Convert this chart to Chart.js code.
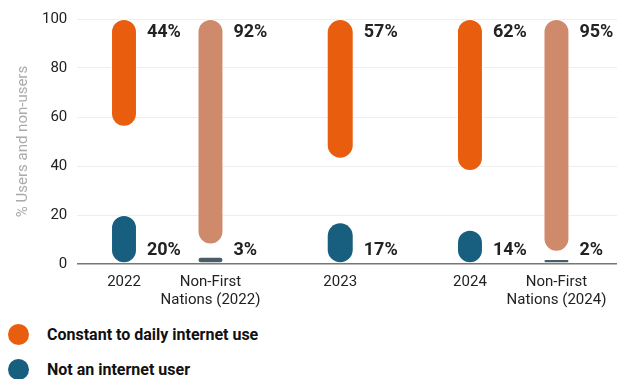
<!doctype html>
<html lang="en">
  <head>
    <meta charset="utf-8">
    <meta name="viewport" content="width=device-width, initial-scale=1">
    <script src="https://cdn.jsdelivr.net/npm/chart.js"></script>
    <title>Internet use</title>
    <style>
      body { margin: 0; background: #fff; font-family: Roboto, sans-serif; }
      #wrap { position: relative; width: 624px; height: 314px; }
      .legend { padding-top: 3px; }
      .legend .row { display: flex; align-items: center; height: 35px; }
      .legend .dot { width: 21px; height: 21px; border-radius: 50%; margin-left: 8px; margin-right: 18px; }
      .legend .txt { font-weight: bold; font-size: 16px; color: #111; }
    </style>
  </head>
  <body>
    <div id="wrap"><canvas id="chart"></canvas></div>
    <div class="legend">
      <div class="row"><span class="dot" style="background:#e85d0e"></span><span class="txt">Constant to daily internet use</span></div>
      <div class="row"><span class="dot" style="background:#175e7f"></span><span class="txt">Not an internet user</span></div>
    </div>

    <script>
    // data
    const years = ['2022', '2023', '2024'];
    const nfnLabels = [['Non-First', 'Nations (2022)'], null, ['Non-First', 'Nations (2024)']];
    const dailyUse = [44, 57, 62];        // constant to daily, First Nations
    const nonUsers = [20, 17, 14];        // not an internet user
    const nfnDailyUse = [92, null, 95];   // Non-First Nations
    const nfnNonUsers = [3, null, 2];
    const yTicks = [0, 20, 40, 60, 80, 100];

    // users hang down from 100, non-users stand up from 0
    const fromTop = arr => arr.map((v, i) => ({ x: i, y: v == null ? null : [100 - v, 100] }));
    const fromBottom = arr => arr.map((v, i) => ({ x: i, y: v == null ? null : [0, v] }));

    const valueSets = [dailyUse, nonUsers, nfnDailyUse, nfnNonUsers];
    const topAnchored = [true, false, true, false];

    const barStyle = {
      borderRadius: 20,
      borderSkipped: false,
      borderWidth: 1,
      borderColor: '#fff',
      categoryPercentage: 1,
      barPercentage: 0.3,
      maxBarThickness: 27
    };

    const labelsPlugin = {
      id: 'labelsPlugin',
      afterDatasetsDraw(chart) {
        const ctx = chart.ctx;
        const area = chart.chartArea;
        ctx.save();
        ctx.fillStyle = '#222';
        ctx.textBaseline = 'middle';

        // percent labels beside each bar
        ctx.font = 'bold 18px Roboto';
        ctx.textAlign = 'left';
        valueSets.forEach((vals, di) => {
          const meta = chart.getDatasetMeta(di);
          meta.data.forEach((el, i) => {
            if (vals[i] == null) return;
            const p = el.getProps(['x', 'y', 'base', 'width'], true);
            const y = topAnchored[di] ? p.y + 13 : p.base - 13;
            ctx.fillText(vals[i] + '%', p.x + p.width / 2 + 10, y);
          });
        });

        // category names under the bars
        ctx.font = '15px Roboto';
        ctx.textAlign = 'center';
        chart.getDatasetMeta(0).data.forEach((el, i) => {
          ctx.fillText(years[i], el.x, area.bottom + 18);
        });
        chart.getDatasetMeta(2).data.forEach((el, i) => {
          if (!nfnLabels[i]) return;
          nfnLabels[i].forEach((line, k) => ctx.fillText(line, el.x, area.bottom + 18 + k * 18));
        });
        ctx.restore();
      }
    };

    new Chart(document.getElementById('chart'), {
      type: 'bar',
      data: {
        datasets: [
          { label: 'Constant to daily internet use', data: fromTop(dailyUse), backgroundColor: '#e85d0e', stack: 'fn', ...barStyle },
          { label: 'Not an internet user', data: fromBottom(nonUsers), backgroundColor: '#175e7f', stack: 'fn', ...barStyle },
          { label: 'Non-First Nations daily use', data: fromTop(nfnDailyUse), backgroundColor: '#ce8a6a', stack: 'nfn', ...barStyle },
          { label: 'Non-First Nations non-users', data: fromBottom(nfnNonUsers), backgroundColor: '#485d68', stack: 'nfn', ...barStyle }
        ]
      },
      options: {
        responsive: true,
        maintainAspectRatio: false,
        animation: false,
        skipNull: true,
        layout: { padding: { top: 8, right: 7, bottom: 42, left: 14 } },
        plugins: { legend: { display: false }, tooltip: { enabled: false } },
        scales: {
          x: {
            type: 'linear',
            min: -0.52,
            max: 2.6,
            offset: false,
            stacked: true,
            afterBuildTicks: axis => { axis.ticks = years.map((y, i) => ({ value: i })); },
            ticks: { display: false },
            grid: { display: false, offset: false },
            border: { display: false }
          },
          y: {
            min: 0,
            max: 100,
            stacked: false,
            afterBuildTicks: axis => { axis.ticks = yTicks.map(v => ({ value: v })); },
            ticks: { color: '#222', font: { family: 'Roboto', size: 15 }, padding: 10 },
            grid: {
              color: ctx => ctx.tick && ctx.tick.value === 0 ? '#777' : '#eeeeee',
              lineWidth: ctx => ctx.tick && ctx.tick.value === 0 ? 1.5 : 1,
              drawTicks: false
            },
            border: { display: false },
            title: {
              display: true,
              text: '% Users and non-users',
              color: '#aaa',
              font: { family: 'Roboto', size: 15 },
              padding: { top: 0, bottom: 0 }
            }
          }
        }
      },
      plugins: [labelsPlugin]
    });
    </script>
  </body>
</html>
